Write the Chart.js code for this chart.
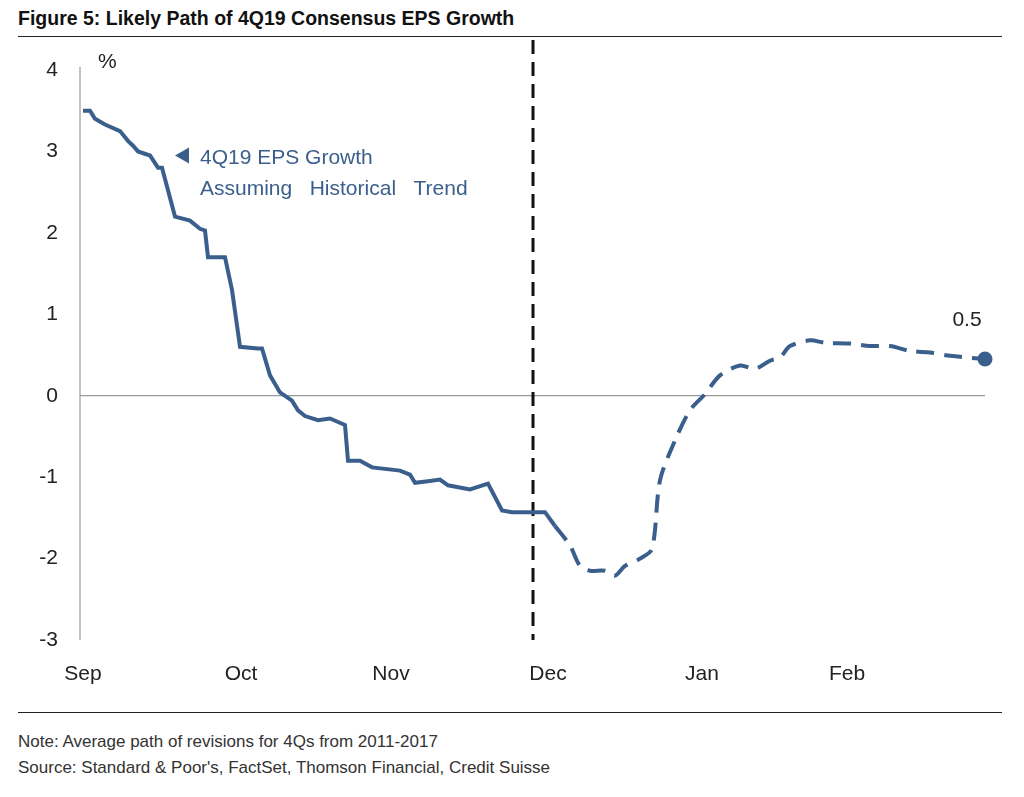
<!DOCTYPE html>
<html><head><meta charset="utf-8">
<script src="https://cdn.jsdelivr.net/npm/chart.js@4"></script>
<style>
body{margin:0;background:#fff;width:1024px;height:797px;position:relative;font-family:"Liberation Sans",Arial,sans-serif;overflow:hidden}
#t{position:absolute;left:18px;top:7px;font-weight:bold;font-size:19.5px;color:#111}
.hr{position:absolute;left:18px;width:984px;height:1px;background:#222}
.n{position:absolute;left:18px;font-size:17px;color:#333}
#w{position:absolute;left:0;top:40px;width:1024px;height:670px}
</style></head><body>
<div id="t">Figure 5: Likely Path of 4Q19 Consensus EPS Growth</div>
<div class="hr" style="top:36px"></div>
<div id="w"><canvas id="c"></canvas></div>
<div class="hr" style="top:712px"></div>
<div class="n" style="top:732px">Note: Average path of revisions for 4Qs from 2011-2017</div>
<div class="n" style="top:758px">Source: Standard &amp; Poor's, FactSet, Thomson Financial, Credit Suisse</div>
<script>
// x = position index along the time axis (Sep start = 0)
const monthLabels=['Sep','Oct','Nov','Dec','Jan','Feb'];
const monthPos=[0,158,308,465,619,764];
const yTicks=[-3,-2,-1,0,1,2,3,4];
const solidX=[0,7,12,22,37,45,50,55,67,75,79,92,107,117,122,125,142,149,157,175,179,187,197,209,215,222,235,247,262,265,277,289,317,327,332,345,357,365,387,405,419,429,462,472];
const solidY=[3.5,3.5,3.4,3.33,3.25,3.13,3.07,3.0,2.95,2.8,2.8,2.2,2.15,2.05,2.03,1.7,1.7,1.3,0.6,0.58,0.58,0.25,0.04,-0.06,-0.18,-0.25,-0.3,-0.28,-0.36,-0.8,-0.8,-0.88,-0.92,-0.97,-1.07,-1.05,-1.03,-1.1,-1.15,-1.08,-1.41,-1.43,-1.43,-1.6];
const dashX=[472,487,497,507,522,532,542,557,569,577,592,607,622,637,657,672,687,697,707,727,742,767,787,807,827,847,867,902];
const dashY=[-1.6,-1.84,-2.09,-2.15,-2.15,-2.21,-2.09,-2.0,-1.88,-1.04,-0.55,-0.18,0.02,0.25,0.37,0.33,0.43,0.47,0.61,0.68,0.65,0.64,0.61,0.61,0.55,0.53,0.49,0.45];
const dividerX=450;
const endLabel='0.5';
const C='#3b5f8c';
const extra={id:'extra',
 beforeDatasetsDraw(ch){const c=ch.ctx,x=ch.scales.x,y=ch.scales.y,a=ch.chartArea;
  c.save();c.strokeStyle='#999';c.lineWidth=1.2;c.beginPath();c.moveTo(a.left,y.getPixelForValue(0));c.lineTo(a.right,y.getPixelForValue(0));c.stroke();
  c.beginPath();c.moveTo(x.getPixelForValue(-3),y.getPixelForValue(4)-3);c.lineTo(x.getPixelForValue(-3),a.bottom);c.stroke();
  c.strokeStyle='#111';c.lineWidth=3;c.setLineDash([14,8]);c.beginPath();const dx=x.getPixelForValue(dividerX);c.moveTo(dx,0);c.lineTo(dx,a.bottom);c.stroke();c.restore();},
 afterDatasetsDraw(ch){const c=ch.ctx,x=ch.scales.x,y=ch.scales.y;c.save();
  const px=x.getPixelForValue(dashX[dashX.length-1]),py=y.getPixelForValue(dashY[dashY.length-1]);
  c.fillStyle=C;c.beginPath();c.arc(px,py,7.5,0,Math.PI*2);c.fill();
  c.fillStyle='#222';c.font='21px "Liberation Sans"';c.textAlign='center';c.fillText(endLabel,px-18,py-33);
  c.textAlign='left';c.fillText('%',x.getPixelForValue(-3)+18,y.getPixelForValue(4)-2);
  const ax=x.getPixelForValue(92),ay=y.getPixelForValue(2.95);
  c.fillStyle=C;c.beginPath();c.moveTo(ax,ay);c.lineTo(ax+14,ay-8);c.lineTo(ax+14,ay+8);c.closePath();c.fill();
  c.font='21px "Liberation Sans"';c.textBaseline='middle';c.fillText('4Q19 EPS Growth',ax+25,ay+3);c.fillText('Assuming   Historical   Trend',ax+25,ay+34);
  c.restore();}};
new Chart(document.getElementById('c'),{type:'line',
 data:{datasets:[
  {data:solidX.map((v,i)=>({x:v,y:solidY[i]})),borderColor:C,borderWidth:4,pointRadius:0,tension:0},
  {data:dashX.map((v,i)=>({x:v,y:dashY[i]})),borderColor:C,borderWidth:4,borderDash:[18,10],pointRadius:0,tension:0.3}]},
 options:{responsive:true,maintainAspectRatio:false,animation:false,
  layout:{padding:{top:30,right:39,left:0,bottom:0}},
  plugins:{legend:{display:false},tooltip:{enabled:false}},
  scales:{
   x:{type:'linear',min:-3,max:902,grid:{display:false},border:{display:false},
    afterBuildTicks(s){s.ticks=monthPos.map(v=>({value:v}));},
    afterFit(s){s.height=70;},
    ticks:{padding:14,maxRotation:0,autoSkip:false,color:'#222',font:{size:21,family:'Liberation Sans'},callback:(v)=>monthLabels[monthPos.indexOf(v)]}},
   y:{min:-3,max:4,grid:{display:false},border:{display:false},
    afterBuildTicks(s){s.ticks=yTicks.map(v=>({value:v}));},
    afterFit(s){s.width=80;},
    ticks:{padding:14,color:'#222',font:{size:21,family:'Liberation Sans'}}}}},
 plugins:[extra]});
</script></body></html>
